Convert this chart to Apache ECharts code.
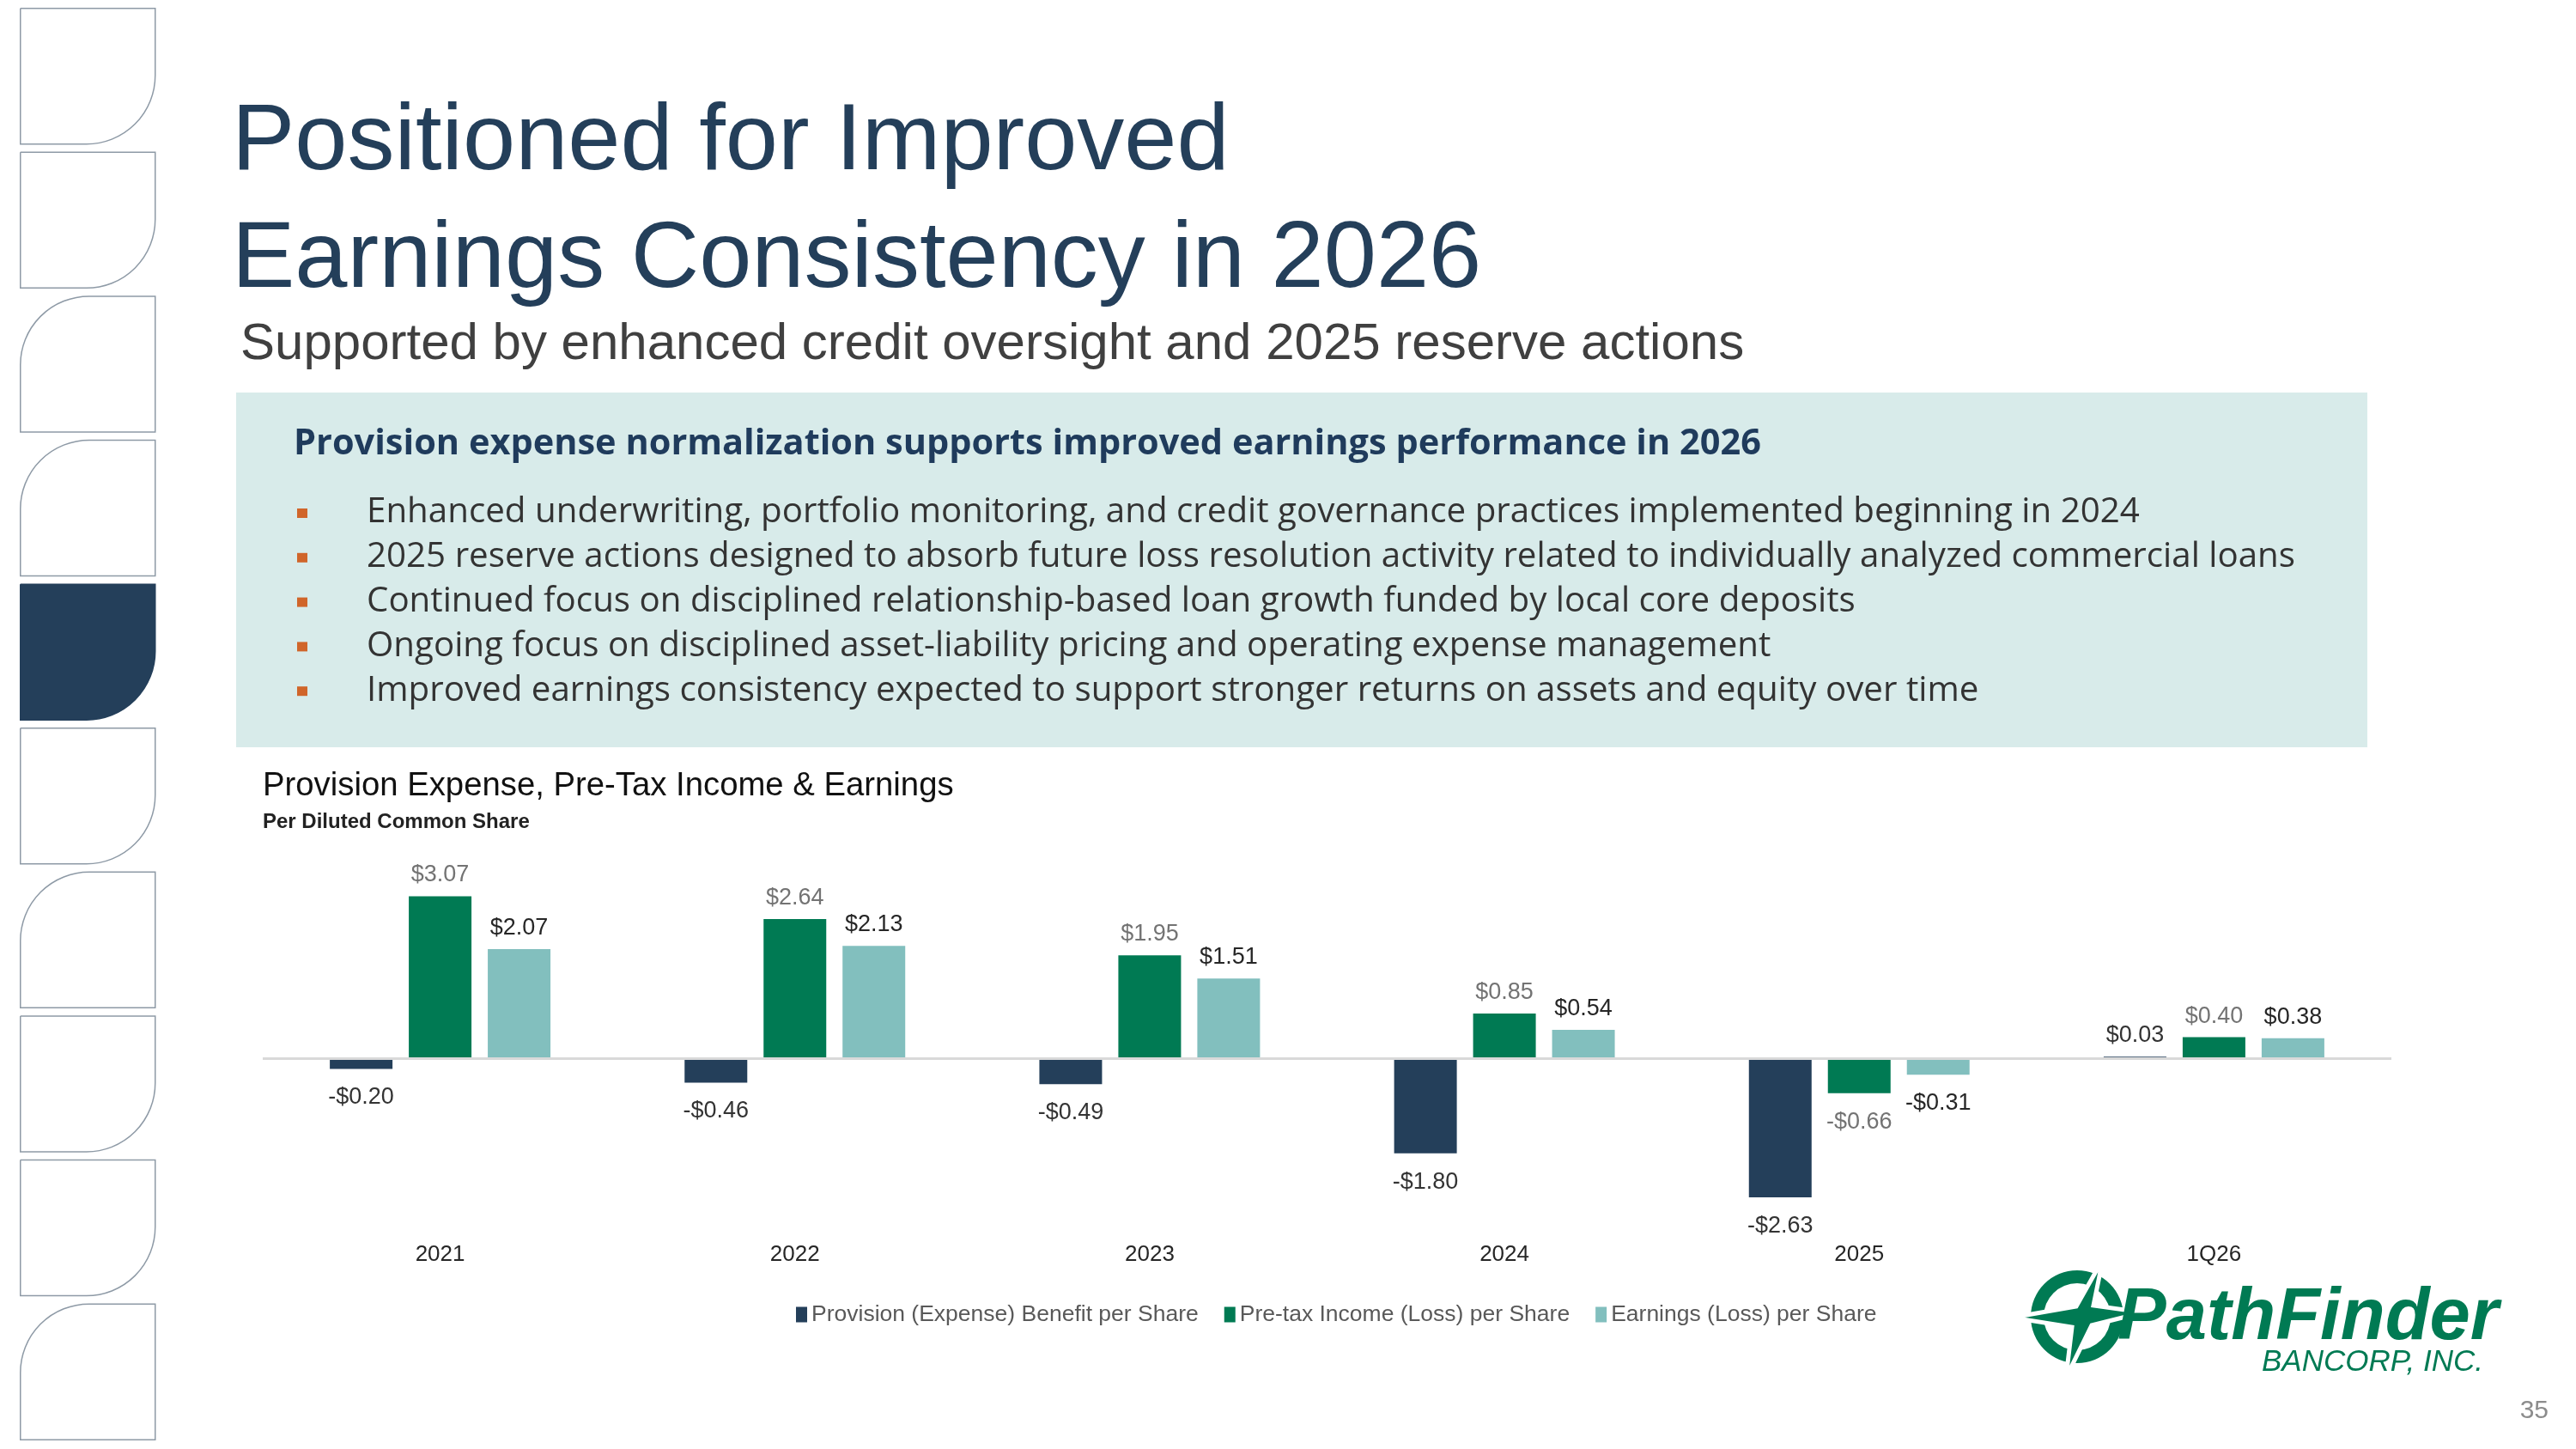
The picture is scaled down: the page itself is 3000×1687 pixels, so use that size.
<!DOCTYPE html>
<html>
<head>
<meta charset="utf-8">
<title>Positioned for Improved Earnings Consistency in 2026</title>
<script src="https://cdn.jsdelivr.net/npm/echarts@6/dist/echarts.min.js"></script>
<style>
  html, body { margin: 0; padding: 0; background: #fff; }
  #main { width: 3000px; height: 1687px; }
</style>
</head>
<body>
<div id="main"></div>
<script>
// chart data
var categories = ['2021', '2022', '2023', '2024', '2025', '1Q26'];
var provision = [-0.20, -0.46, -0.49, -1.80, -2.63, 0.03];
var pretax = [3.07, 2.64, 1.95, 0.85, -0.66, 0.40];
var earnings = [2.07, 2.13, 1.51, 0.54, -0.31, 0.38];
var seriesNames = [
  'Provision (Expense) Benefit per Share',
  'Pre-tax Income (Loss) per Share',
  'Earnings (Loss) per Share'
];

// slide text
var titleLines = ['Positioned for Improved', 'Earnings Consistency in 2026'];
var subtitle = 'Supported by enhanced credit oversight and 2025 reserve actions';
var boxHeading = 'Provision expense normalization supports improved earnings performance in 2026';
var bullets = [
  'Enhanced underwriting, portfolio monitoring, and credit governance practices implemented beginning in 2024',
  '2025 reserve actions designed to absorb future loss resolution activity related to individually analyzed commercial loans',
  'Continued focus on disciplined relationship-based loan growth funded by local core deposits',
  'Ongoing focus on disciplined asset-liability pricing and operating expense management',
  'Improved earnings consistency expected to support stronger returns on assets and equity over time'
];
// which corner of each side tab is rounded, top to bottom
var tabCorners = ['br', 'br', 'tl', 'tl', 'br', 'br', 'tl', 'br', 'br', 'tl'];
var activeTab = 4;

var NAVY = '#243f5a';
var GREEN = '#007a53';
var TEAL = '#82bfbe';
var FONT = '"Liberation Sans", Arial, sans-serif';
var BODY_FONT = '"Open Sans", "Noto Sans", sans-serif';

function money(v) {
  return (v < 0 ? '-$' : '$') + Math.abs(v).toFixed(2);
}

function barData(values, labelColor) {
  return values.map(function (v) {
    return {
      value: v,
      label: { position: v < 0 ? 'bottom' : 'top', distance: v < 0 ? 20 : 11, color: labelColor }
    };
  });
}

var graphics = [];

// side tabs
tabCorners.forEach(function (c, i) {
  graphics.push({
    type: 'rect',
    left: 23,
    top: 9 + i * 167.6,
    shape: { width: 157, height: 158, r: c === 'br' ? [0, 0, 80, 0] : [80, 0, 0, 0] },
    style: i === activeTab
      ? { fill: NAVY, stroke: NAVY, lineWidth: 1.5 }
      : { fill: '#fff', stroke: '#8e9aa6', lineWidth: 1.5 },
    silent: true
  });
});

// title + subtitle
titleLines.forEach(function (t, i) {
  graphics.push({
    type: 'text', x: 270, y: 167 + i * 137,
    style: { text: t, font: '110px ' + FONT, fill: NAVY, verticalAlign: 'middle' }
  });
});
graphics.push({
  type: 'text', x: 280, y: 401,
  style: { text: subtitle, font: '60px ' + FONT, fill: '#404040', verticalAlign: 'middle' }
});

// highlight box
graphics.push({
  type: 'rect', left: 275, top: 457,
  shape: { width: 2482, height: 413 },
  style: { fill: '#d8ebea' },
  z: -1, silent: true
});
graphics.push({
  type: 'text', x: 342, y: 517,
  style: { text: boxHeading, font: 'bold 41.5px ' + BODY_FONT, fill: '#1f3b5c', verticalAlign: 'middle' }
});
bullets.forEach(function (b, i) {
  var base = 611 + i * 51.8;
  graphics.push({
    type: 'rect', left: 346, top: base - 19,
    shape: { width: 12, height: 11 },
    style: { fill: '#d0652a' }
  });
  graphics.push({
    type: 'text', x: 427, y: base - 14,
    style: { text: b, font: '40.3px ' + BODY_FONT, fill: '#333', verticalAlign: 'middle' }
  });
});

// chart heading
graphics.push({
  type: 'text', x: 306, y: 915,
  style: { text: 'Provision Expense, Pre-Tax Income & Earnings', font: '38.3px ' + FONT, fill: '#111', verticalAlign: 'middle' }
});
graphics.push({
  type: 'text', x: 306, y: 957,
  style: { text: 'Per Diluted Common Share', font: 'bold 24px ' + FONT, fill: '#222', verticalAlign: 'middle' }
});

// logo
graphics.push({
  type: 'ring',
  shape: { cx: 2419, cy: 1533, r: 54, r0: 39 },
  style: { fill: GREEN }
});
graphics.push({
  type: 'polygon',
  shape: {
    points: [[2449, 1466], [2438, 1520], [2496, 1528], [2436, 1543], [2406, 1604],
             [2413, 1545], [2343, 1534], [2418, 1521]]
  },
  style: { fill: GREEN, stroke: '#fff', lineWidth: 5 }
});
graphics.push({
  type: 'text', x: 2466, y: 1536,
  style: { text: 'PathFinder', font: 'italic bold 85px ' + FONT, fill: GREEN, verticalAlign: 'middle' }
});
graphics.push({
  type: 'text', x: 2634, y: 1586,
  style: { text: 'BANCORP, INC.', font: 'italic 35px ' + FONT, fill: GREEN, verticalAlign: 'middle' }
});

// page number
graphics.push({
  type: 'text', x: 2968, y: 1643,
  style: { text: '35', font: '30px ' + FONT, fill: '#8c8c8c', align: 'right', verticalAlign: 'middle' }
});

var chart = echarts.init(document.getElementById('main'), null, { renderer: 'canvas' });

var option = {
  backgroundColor: '#fff',
  animation: false,
  textStyle: { fontFamily: FONT },
  graphic: graphics,
  grid: { left: 306, right: 215, top: 1017, height: 423 },
  legend: {
    left: 922, top: 1512,
    itemWidth: 13, itemHeight: 18, itemGap: 30,
    icon: 'rect',
    textStyle: { color: '#595959', fontSize: 26.5, fontFamily: FONT },
    data: seriesNames
  },
  xAxis: {
    type: 'category',
    data: categories,
    axisLine: { show: false, onZero: false },
    axisTick: { show: false },
    axisLabel: { margin: 8, fontSize: 26, color: '#262626' }
  },
  yAxis: {
    type: 'value',
    min: -3.38,
    max: 3.5,
    show: false,
    splitLine: { show: false }
  },
  series: [
    {
      name: seriesNames[0], type: 'bar', barWidth: 73, barGap: '26%',
      itemStyle: { color: NAVY },
      label: { show: true, formatter: function (p) { return money(p.value); }, fontSize: 27 },
      data: barData(provision, '#333'),
      markLine: {
        silent: true, symbol: 'none',
        label: { show: false },
        lineStyle: { color: '#d9d9d9', width: 3, type: 'solid' },
        data: [{ yAxis: 0 }]
      }
    },
    {
      name: seriesNames[1], type: 'bar', barWidth: 73, barGap: '26%',
      itemStyle: { color: GREEN },
      label: { show: true, formatter: function (p) { return money(p.value); }, fontSize: 27 },
      data: barData(pretax, '#737373')
    },
    {
      name: seriesNames[2], type: 'bar', barWidth: 73, barGap: '26%',
      itemStyle: { color: TEAL },
      label: { show: true, formatter: function (p) { return money(p.value); }, fontSize: 27 },
      data: barData(earnings, '#262626')
    }
  ]
};

chart.setOption(option);
</script>
</body>
</html>
